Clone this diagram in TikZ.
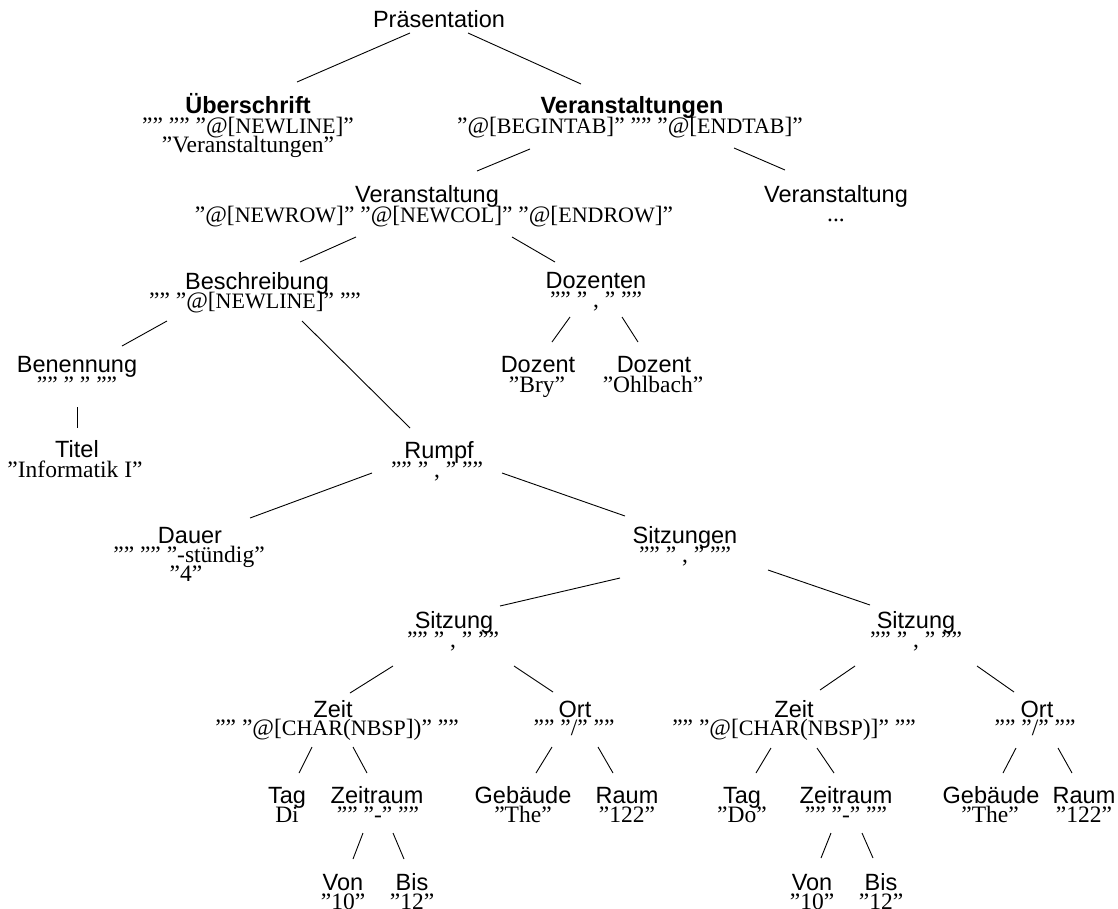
\documentclass[tikz,border=0pt]{standalone}
\usepackage{fontspec}
\setmainfont{Liberation Serif}
\setsansfont{Liberation Sans}
\newcommand\kap[1]{{\fontsize{22}{22}\selectfont #1}}
\tikzset{
 lbl/.style={anchor=base, inner sep=0pt, font=\sffamily\fontsize{23.5}{24}\selectfont},
 blbl/.style={anchor=base, inner sep=0pt, font=\sffamily\bfseries\fontsize{23.5}{24}\selectfont},
 val/.style={anchor=base, inner sep=0pt, font=\rmfamily\fontsize{23.5}{24}\selectfont},
 edge/.style={draw, line width=0.9pt}
}
\begin{document}
\begin{tikzpicture}[x=1pt,y=-1pt]
\useasboundingbox (0,0) rectangle (1118,908);
% level 0
\node[lbl] (p) at (439,27) {Präsentation};
% level 1
\node[blbl] (u) at (248,113) {Überschrift};
\node[val] (us1) at (248,133) {”” ”” ”@[\kap{NEWLINE}]”};
\node[val] (us2) at (248,152) {”Veranstaltungen”};
\node[blbl] (vs) at (632,113) {Veranstaltungen};
\node[val] (vss) at (630,133) {”@[\kap{BEGINTAB}]” ”” ”@[\kap{ENDTAB}]”};
% level 2
\node[lbl] (v1) at (427,202) {Veranstaltung};
\node[val] (v1s) at (434,222) {”@[\kap{NEWROW}]” ”@[\kap{NEWCOL}]” ”@[\kap{ENDROW}]”};
\node[lbl] (v2) at (836,202) {Veranstaltung};
\node[val] (v2s) at (836,221) {...};
% level 3
\node[lbl] (b) at (257,289) {Beschreibung};
\node[val] (bs) at (255,308) {”” ”@[\kap{NEWLINE}]” ””};
\node[lbl] (dz) at (596,288) {Dozenten};
\node[val] (dzs) at (596,307) {”” ” , ” ””};
% level 4
\node[lbl] (bn) at (77,372) {Benennung};
\node[val] (bns) at (77,392) {”” ” ” ””};
\node[lbl] (dl) at (538,372) {Dozent};
\node[val] (dls) at (537,392) {”Bry”};
\node[lbl] (dr) at (654,372) {Dozent};
\node[val] (drs) at (653,392) {”Ohlbach”};
% level 5
\node[lbl] (ti) at (77,457) {Titel};
\node[val] (tis) at (75,477) {”Informatik I”};
\node[lbl] (r) at (439,458) {Rumpf};
\node[val] (rs) at (437,477) {”” ” , ” ””};
% level 6
\node[lbl] (da) at (190,543) {Dauer};
\node[val] (das1) at (189,562) {”” ”” ”-stündig”};
\node[val] (das2) at (186,581) {”4”};
\node[lbl] (sg) at (685,543) {Sitzungen};
\node[val] (sgs) at (685,562) {”” ” , ” ””};
% level 7
\node[lbl] (s1) at (454,628) {Sitzung};
\node[val] (s1s) at (453,647) {”” ” , ” ””};
\node[lbl] (s2) at (916,628) {Sitzung};
\node[val] (s2s) at (916,647) {”” ” , ” ””};
% level 8
\node[lbl] (z1) at (333,717) {Zeit};
\node[val] (z1s) at (337,735) {”” ”@[\kap{CHAR}(\kap{NBSP}])” ””};
\node[lbl] (o1) at (575,717) {Ort};
\node[val] (o1s) at (574,735) {”” ”/” ””};
\node[lbl] (z2) at (794,717) {Zeit};
\node[val] (z2s) at (794,735) {”” ”@[\kap{CHAR}(\kap{NBSP})]” ””};
\node[lbl] (o2) at (1037,717) {Ort};
\node[val] (o2s) at (1035,735) {”” ”/” ””};
% level 9
\node[lbl] (t1) at (287,803) {Tag};
\node[val] (t1s) at (287,822) {Di};
\node[lbl] (zr1) at (377,803) {Zeitraum};
\node[val] (zr1s) at (378,822) {”” ”-” ””};
\node[lbl] (g1) at (523,803) {Gebäude};
\node[val] (g1s) at (523,822) {”The”};
\node[lbl] (ra1) at (627,803) {Raum};
\node[val] (ra1s) at (627,822) {”122”};
\node[lbl] (t2) at (742,803) {Tag};
\node[val] (t2s) at (742,822) {”Do”};
\node[lbl] (zr2) at (846,803) {Zeitraum};
\node[val] (zr2s) at (846,822) {”” ”-” ””};
\node[lbl] (g2) at (991,803) {Gebäude};
\node[val] (g2s) at (990,822) {”The”};
\node[lbl] (ra2) at (1084,803) {Raum};
\node[val] (ra2s) at (1084,822) {”122”};
% level 10
\node[lbl] (vo1) at (343,890) {Von};
\node[val] (vo1s) at (343,909) {”10”};
\node[lbl] (bi1) at (412,890) {Bis};
\node[val] (bi1s) at (412,909) {”12”};
\node[lbl] (vo2) at (812,890) {Von};
\node[val] (vo2s) at (812,909) {”10”};
\node[lbl] (bi2) at (881,890) {Bis};
\node[val] (bi2s) at (881,909) {”12”};
% connectors
\draw[edge] ([shift={(-29,6)}]p.base) -- ([shift={(49,-31)}]u.base);
\draw[edge] ([shift={(29,6)}]p.base) -- ([shift={(-51,-29)}]vs.base);
\draw[edge] ([shift={(-100,16)}]vss.base) -- ([shift={(50,-31)}]v1.base);
\draw[edge] ([shift={(104,15)}]vss.base) -- ([shift={(-51,-32)}]v2.base);
\draw[edge] ([shift={(-78,15)}]v1s.base) -- ([shift={(43,-27)}]b.base);
\draw[edge] ([shift={(78,15)}]v1s.base) -- ([shift={(-41,-26)}]dz.base);
\draw[edge] ([shift={(-88,13)}]bs.base) -- ([shift={(45,-26)}]bn.base);
\draw[edge] ([shift={(47,13)}]bs.base) -- ([shift={(-29,-30)}]r.base);
\draw[edge] ([shift={(-26,10)}]dzs.base) -- ([shift={(14,-30)}]dl.base);
\draw[edge] ([shift={(26,10)}]dzs.base) -- ([shift={(-16,-30)}]dr.base);
\draw[edge] ([shift={(0,15)}]bns.base) -- ([shift={(0,-29)}]ti.base);
\draw[edge] ([shift={(-65,-4)}]rs.base) -- ([shift={(60,-25)}]da.base);
\draw[edge] ([shift={(65,-4)}]rs.base) -- ([shift={(-60,-27)}]sg.base);
\draw[edge] ([shift={(-65,16)}]sgs.base) -- ([shift={(46,-22)}]s1.base);
\draw[edge] ([shift={(83,8)}]sgs.base) -- ([shift={(-46,-23)}]s2.base);
\draw[edge] ([shift={(-60,19)}]s1s.base) -- ([shift={(17,-24)}]z1.base);
\draw[edge] ([shift={(61,19)}]s1s.base) -- ([shift={(-22,-25)}]o1.base);
\draw[edge] ([shift={(-61,19)}]s2s.base) -- ([shift={(26,-27)}]z2.base);
\draw[edge] ([shift={(61,19)}]s2s.base) -- ([shift={(-23,-25)}]o2.base);
\draw[edge] ([shift={(-25,12)}]z1s.base) -- ([shift={(12,-30)}]t1.base);
\draw[edge] ([shift={(16,12)}]z1s.base) -- ([shift={(-10,-30)}]zr1.base);
\draw[edge] ([shift={(-22,12)}]o1s.base) -- ([shift={(13,-30)}]g1.base);
\draw[edge] ([shift={(24,12)}]o1s.base) -- ([shift={(-14,-30)}]ra1.base);
\draw[edge] ([shift={(-23,13)}]z2s.base) -- ([shift={(14,-30)}]t2.base);
\draw[edge] ([shift={(23,13)}]z2s.base) -- ([shift={(-12,-30)}]zr2.base);
\draw[edge] ([shift={(-19,13)}]o2s.base) -- ([shift={(12,-30)}]g2.base);
\draw[edge] ([shift={(23,13)}]o2s.base) -- ([shift={(-12,-30)}]ra2.base);
\draw[edge] ([shift={(-15,11)}]zr1s.base) -- ([shift={(10,-31)}]vo1.base);
\draw[edge] ([shift={(15,11)}]zr1s.base) -- ([shift={(-8,-31)}]bi1.base);
\draw[edge] ([shift={(-15,11)}]zr2s.base) -- ([shift={(9,-32)}]vo2.base);
\draw[edge] ([shift={(16,11)}]zr2s.base) -- ([shift={(-8,-32)}]bi2.base);
\end{tikzpicture}
\end{document}
